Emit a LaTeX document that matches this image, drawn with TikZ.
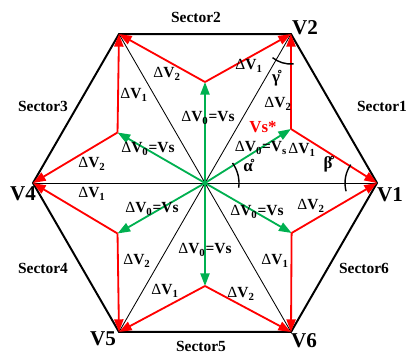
\documentclass[tikz,border=0pt]{standalone}
\usepackage{fontspec}
\setmainfont{Liberation Serif}
\usetikzlibrary{arrows.meta}
\definecolor{vgreen}{RGB}{0,176,80}
\tikzset{
  hexedge/.style={line width=1.4pt,line join=miter},
  spoke/.style={line width=0.6pt},
  zerovec/.style={vgreen,line width=1.3pt,-{Triangle[length=9pt,width=6.5pt]}},
  activevec/.style={red,line width=1.3pt,-{Triangle[length=9pt,width=6.5pt]}},
  seclabel/.style={font=\bfseries\fontsize{11}{13}\selectfont,inner sep=0pt},
  vlabel/.style={font=\bfseries\fontsize{15}{17}\selectfont,inner sep=0pt},
  dlabel/.style={font=\fontsize{11}{13}\selectfont,inner sep=0pt},
  anglemark/.style={line width=1pt}
}
\newcommand{\dV}[1]{Δ\textbf{V}\textsubscript{\textbf{#1}}}
\newcommand{\dVzero}{Δ\textbf{V}\textsubscript{\textbf{0}}\textbf{=Vs}}

\begin{document}
\begin{tikzpicture}[x=0.025cm,y=0.025cm]
\useasboundingbox (-205,-171) rectangle (203,183);
% hexagon corners and zero-vector tips
\coordinate (o) at (0,0);
\coordinate (v1) at (0:172);
\coordinate (v2) at (60:172);
\coordinate (v3) at (120:172);
\coordinate (v4) at (180:172);
\coordinate (v5) at (240:172);
\coordinate (v6) at (300:172);
\coordinate (s1) at (86,54);
\coordinate (s2) at (90:101);
\coordinate (s3) at (150:101);
\coordinate (s4) at (210:101);
\coordinate (s5) at (270:103);
\coordinate (s6) at (330:100);
% outline and spokes
\draw[hexedge] (v1) -- (v2) -- (v3) -- (v4) -- (v5) -- (v6) -- cycle;
\draw[spoke] (o) -- (v1);
\draw[spoke] (o) -- (v2);
\draw[spoke] (o) -- (v3);
\draw[spoke] (o) -- (v4);
\draw[spoke] (o) -- (v5);
\draw[spoke] (o) -- (v6);
% zero vectors
\draw[zerovec] (o) -- (s1);
\draw[zerovec] (o) -- (s2);
\draw[zerovec] (o) -- (s3);
\draw[zerovec] (o) -- (s4);
\draw[zerovec] (o) -- (s5);
\draw[zerovec] (o) -- (s6);
% active vectors
\draw[activevec] (s1) -- (v1);
\draw[activevec] (s1) -- (v2);
\draw[activevec] (s2) -- (v2);
\draw[activevec] (s2) -- (v3);
\draw[activevec] (s3) -- (v3);
\draw[activevec] (s3) -- (v4);
\draw[activevec] (s4) -- (v4);
\draw[activevec] (s4) -- (v5);
\draw[activevec] (s5) -- (v5);
\draw[activevec] (s5) -- (v6);
\draw[activevec] (s6) -- (v6);
\draw[activevec] (s6) -- (v1);
% angle marks
\draw[anglemark] ([shift={(-8:34)}]o) arc[start angle=-8,end angle=36,radius=34];
\draw[anglemark] ([shift={(145:32)}]v1) arc[start angle=145,end angle=195,radius=32];
\draw[anglemark] ([shift={(232:30)}]v2) arc[start angle=232,end angle=275,radius=30];
% sector names
\node[seclabel] (sec1) at (177,77) {Sector1};
\node[seclabel] (sec2) at (-9,166) {Sector2};
\node[seclabel] (sec3) at (-162,77) {Sector3};
\node[seclabel] (sec4) at (-162,-85) {Sector4};
\node[seclabel] (sec5) at (-4,-163) {Sector5};
\node[seclabel] (sec6) at (159,-85) {Sector6};
% vertex names
\node[vlabel] (lv1) at (185,-12) {V1};
\node[vlabel] (lv2) at (100,155) {V2};
\node[vlabel] (lv4) at (-182,-11) {V4};
\node[vlabel] (lv5) at (-102,-156) {V5};
\node[vlabel] (lv6) at (99,-158) {V6};
% sector 1
\node[dlabel] (d12) at (73,79) {\dV{2}};
\node[dlabel] (d11) at (97,33) {\dV{1}};
\node[dlabel] (d10) at (56,35) {Δ\textbf{V}\textsubscript{\textbf{0}}\textbf{=V}\textsubscript{\textbf{s}}};
\node[dlabel,red,font=\bfseries\fontsize{12}{14}\selectfont] (vs) at (58,56) {Vs*};
\node[dlabel,font=\bfseries\fontsize{12}{14}\selectfont] (alpha) at (43,18) {α̊};
\node[dlabel,font=\bfseries\fontsize{12}{14}\selectfont] (beta) at (123,19) {β̊};
\node[dlabel,font=\bfseries\fontsize{12}{14}\selectfont] (gamma) at (71,105) {γ̊};
% sector 2
\node[dlabel] (d21) at (44,117) {\dV{1}};
\node[dlabel] (d22) at (-38,109) {\dV{2}};
\node[dlabel] (d20) at (3,65) {\dVzero};
% sector 3
\node[dlabel] (d31) at (-71,88) {\dV{1}};
\node[dlabel] (d32) at (-113,19) {\dV{2}};
\node[dlabel] (d30) at (-57,34) {\dVzero};
% sector 4
\node[dlabel] (d41) at (-113,-11) {\dV{1}};
\node[dlabel] (d40) at (-53,-26) {\dVzero};
\node[dlabel] (d42) at (-68,-78) {\dV{2}};
% sector 5
\node[dlabel] (d50) at (0,-67) {\dVzero};
\node[dlabel] (d51) at (-40,-108) {\dV{1}};
\node[dlabel] (d52) at (36,-111) {\dV{2}};
% sector 6
\node[dlabel] (d60) at (52,-29) {\dVzero};
\node[dlabel] (d62) at (106,-23) {\dV{2}};
\node[dlabel] (d61) at (70,-78) {\dV{1}};
\end{tikzpicture}
\end{document}
